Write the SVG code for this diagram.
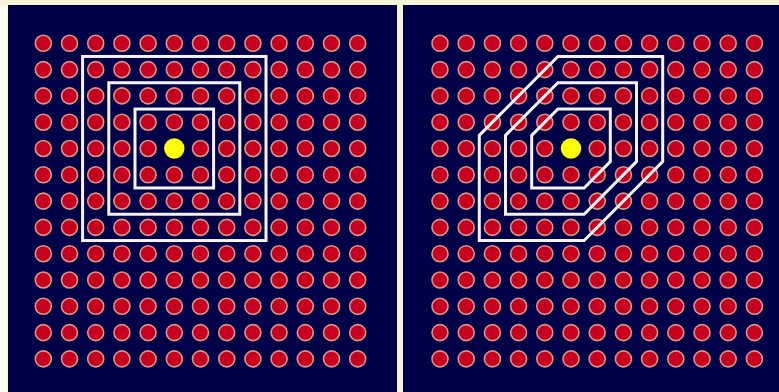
<svg xmlns="http://www.w3.org/2000/svg" xmlns:xlink="http://www.w3.org/1999/xlink" width="779" height="392" viewBox="0 0 779 392">
<style>
.panel{fill:#000048}
.dot{fill:#c8001f;stroke:#d89a88;stroke-width:1.6}
.ring{fill:none;stroke:#f4f4f4;stroke-width:3;stroke-linejoin:miter}
.center{fill:#ffff00}
</style>
<defs>
<circle id="c" class="dot" r="8"/>
<g id="row">
<use xlink:href="#c" x="0"/><use xlink:href="#c" x="26.2"/><use xlink:href="#c" x="52.4"/><use xlink:href="#c" x="78.6"/><use xlink:href="#c" x="104.8"/><use xlink:href="#c" x="131"/><use xlink:href="#c" x="157.2"/><use xlink:href="#c" x="183.4"/><use xlink:href="#c" x="209.6"/><use xlink:href="#c" x="235.8"/><use xlink:href="#c" x="262"/><use xlink:href="#c" x="288.2"/><use xlink:href="#c" x="314.4"/>
</g>
<g id="grid">
<use xlink:href="#row" y="0"/><use xlink:href="#row" y="26.3"/><use xlink:href="#row" y="52.6"/><use xlink:href="#row" y="78.9"/><use xlink:href="#row" y="105.2"/><use xlink:href="#row" y="131.5"/><use xlink:href="#row" y="157.8"/><use xlink:href="#row" y="184.1"/><use xlink:href="#row" y="210.4"/><use xlink:href="#row" y="236.7"/><use xlink:href="#row" y="263"/><use xlink:href="#row" y="289.3"/><use xlink:href="#row" y="315.6"/>
</g>
</defs>
<rect x="0" y="0" width="779" height="392" fill="#f6f6d6"/>
<rect x="0" y="5" width="7" height="387" fill="#fcfcf2"/>
<g id="left-panel">
<rect class="panel" x="8" y="5" width="389" height="387"/>
<use xlink:href="#grid" x="43.3" y="43.3"/>
<circle class="center" cx="174.3" cy="148.5" r="10.2"/>
<g id="left-rings">
<rect class="ring" x="82.6" y="56.45" width="183.4" height="184.1"/>
<rect class="ring" x="108.8" y="82.75" width="131" height="131.5"/>
<rect class="ring" x="135" y="109.05" width="78.6" height="78.9"/>
</g>
</g>
<g id="right-panel">
<rect class="panel" x="403" y="5" width="376" height="387"/>
<use xlink:href="#grid" x="440" y="43.3"/>
<circle class="center" cx="571" cy="148.5" r="10.2"/>
<g id="right-rings">
<polygon class="ring" points="479.3,135.35 557.9,56.45 662.7,56.45 662.7,161.65 584.1,240.55 479.3,240.55"/>
<polygon class="ring" points="505.5,135.35 557.9,82.75 636.5,82.75 636.5,161.65 584.1,214.25 505.5,214.25"/>
<polygon class="ring" points="531.7,135.35 557.9,109.05 610.3,109.05 610.3,161.65 584.1,187.95 531.7,187.95"/>
</g>
</g>
</svg>
